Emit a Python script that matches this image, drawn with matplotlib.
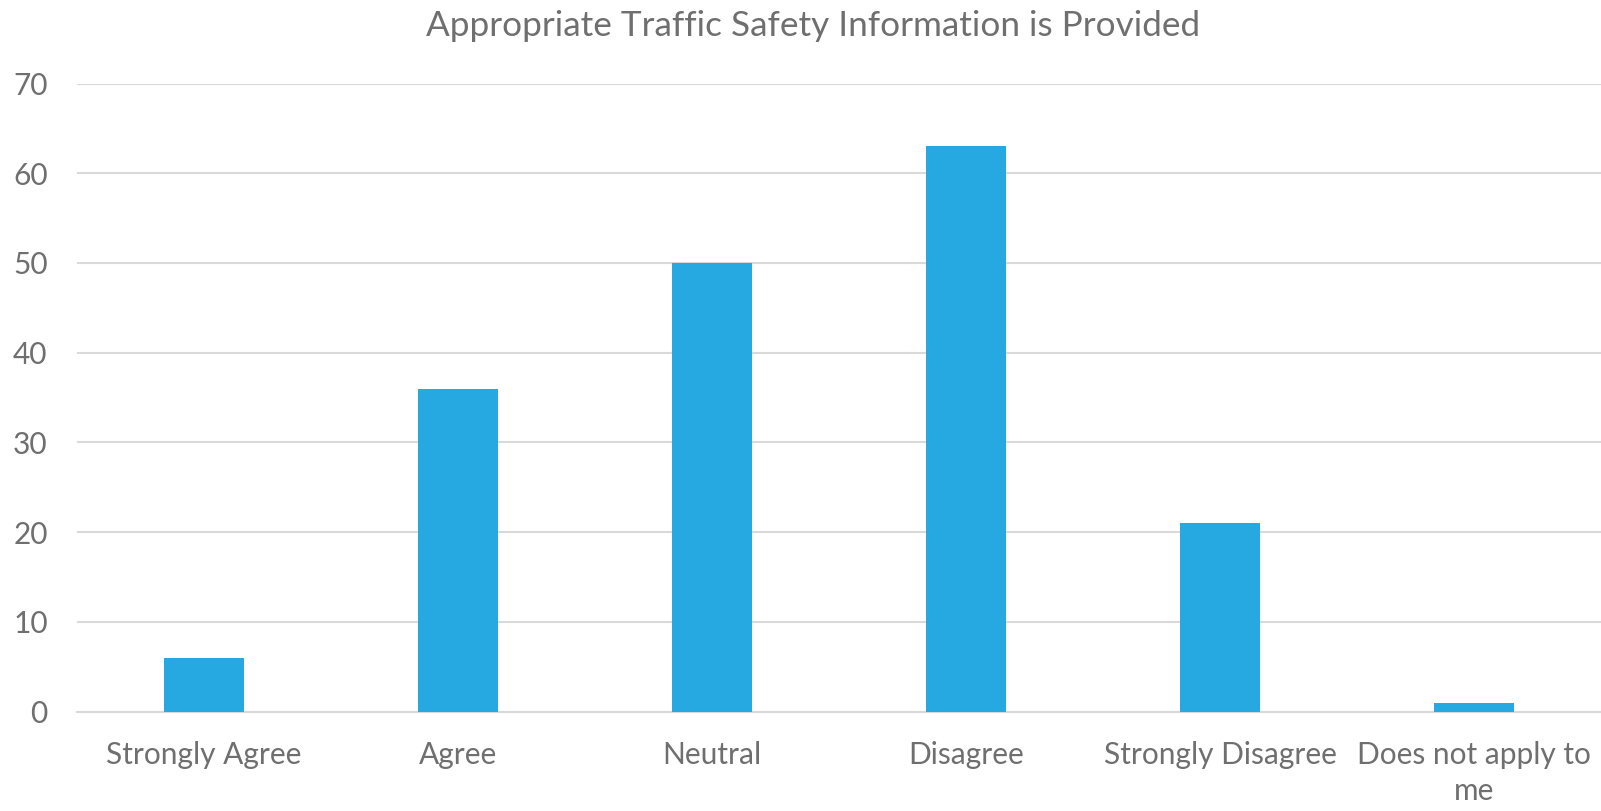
import matplotlib
matplotlib.use("Agg")
import matplotlib.pyplot as plt
import numpy as np

categories = ["Strongly Agree", "Agree", "Neutral", "Disagree",
              "Strongly Disagree", "Does not apply to\nme"]
counts = [6, 36, 50, 63, 21, 1]
yticks = [0, 10, 20, 30, 40, 50, 60, 70]

plt.rcParams["font.family"] = ["Lato", "DejaVu Sans"]
text_color = "#6f6f6f"

fig = plt.figure(figsize=(16.01, 8.11), dpi=100)
ax = fig.add_axes([0.048, 0.1225, 0.952, 0.7745])

x = np.arange(len(categories))
ax.bar(x, counts, width=0.315, color="#26a9e0", zorder=3)

ax.set_xlim(-0.5, len(categories) - 0.5)
ax.set_ylim(0, 70)
ax.set_yticks(yticks)
ax.set_xticks(x)
ax.set_xticklabels(categories, fontsize=21.5, color=text_color, linespacing=1.35)
ax.tick_params(axis="y", labelsize=21.5, labelcolor=text_color, length=0, pad=21)
ax.tick_params(axis="x", length=0, pad=21)
ax.grid(axis="y", color="#d9d9d9", linewidth=1.5, zorder=0)
for side in ["left", "right", "top"]:
    ax.spines[side].set_visible(False)
ax.spines["bottom"].set_color("#d9d9d9")
ax.spines["bottom"].set_linewidth(1.5)

# title sits a little right of the figure centre
fig.text(0.508, 0.968, "Appropriate Traffic Safety Information is Provided",
         ha="center", va="center", fontsize=25.3, color=text_color)

fig.savefig("out.png", dpi=100, facecolor="white")
